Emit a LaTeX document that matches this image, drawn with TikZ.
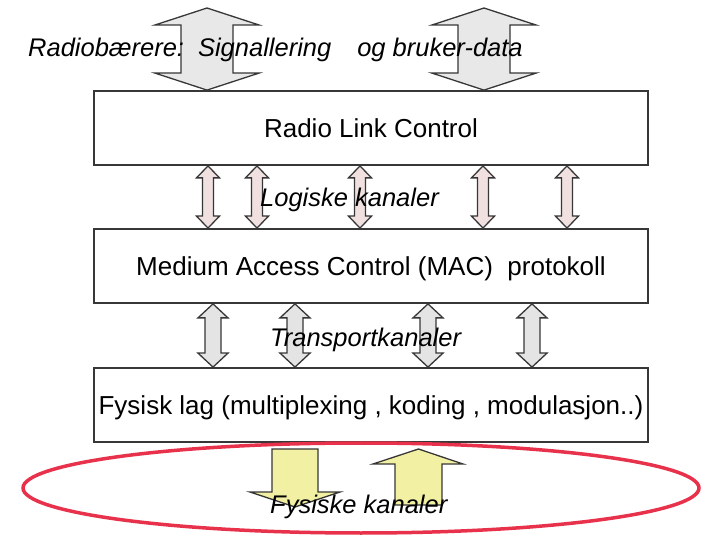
\documentclass[tikz,border=0pt]{standalone}
\usepackage{fontspec}
\setmainfont{Liberation Sans}
\usetikzlibrary{calc,shapes.geometric}
\definecolor{edge}{RGB}{55,55,55}
\definecolor{pinkfill}{RGB}{240,224,224}
\definecolor{grayfill}{RGB}{228,228,228}
\definecolor{bigfill}{RGB}{232,232,232}
\definecolor{yelfill}{RGB}{242,240,162}
\definecolor{ringred}{RGB}{232,50,76}
\newcommand\dblarr[7]{%
  \path[#1] let \p1=(#3), \p2=(#4) in
   (#2pt,\y1) -- (#2pt+#5pt,\y1-#7pt) -- (#2pt+#6pt,\y1-#7pt) -- (#2pt+#6pt,\y2+#7pt)
   -- (#2pt+#5pt,\y2+#7pt) -- (#2pt,\y2) -- (#2pt-#5pt,\y2+#7pt) -- (#2pt-#6pt,\y2+#7pt)
   -- (#2pt-#6pt,\y1-#7pt) -- (#2pt-#5pt,\y1-#7pt) -- cycle;}
\begin{document}
\begin{tikzpicture}[x=1pt,y=-1pt,
  layer/.style={draw=edge, line width=1.8pt, fill=white, minimum width=554pt, minimum height=74pt,
    inner sep=0pt, text height=18.7pt, text depth=0pt, font=\fontsize{26}{30}\selectfont},
  lbl/.style={inner sep=0pt, anchor=base west, font=\fontsize{25.5}{30}\selectfont\itshape},
  arrline/.style={draw=edge, line width=1.3pt, line join=miter},
  pinkarr/.style={arrline, fill=pinkfill},
  grayarr/.style={arrline, fill=grayfill},
  bigarr/.style={arrline, fill=bigfill},
  yelarr/.style={arrline, fill=yelfill}]
\useasboundingbox (0,0) rectangle (702,537);
\fill[white] (0,0) rectangle (702,537);
% layers
\node[layer] (rlc) at (371,128) {Radio Link Control};
\node[layer] (mac) at (371,266) {Medium Access Control (MAC)\ \ protokoll};
\node[layer] (fys) at (371,405) {Fysisk lag (multiplexing , koding , modulasjon..)};
% free ends of the top arrows
\coordinate (topL) at (207,8);
\coordinate (topR) at (484,8);
% radio bearers
\dblarr{bigarr}{207}{topL}{rlc.north}{52}{26}{17}
\dblarr{bigarr}{484}{topR}{rlc.north}{52}{26}{17}
% logical channels
\foreach \xx in {208,257,360,483,567}{\dblarr{pinkarr}{\xx}{rlc.south}{mac.north}{11.5}{5.5}{12}}
% transport channels
\foreach \xx in {213,295,428,532}{\dblarr{grayarr}{\xx}{mac.south}{fys.north}{15}{8}{14}}
% physical channels
\draw[yelarr] (272,449) -- (318,449) -- (318,492) -- (340,492) -- (295,507) -- (250,492) -- (272,492) -- cycle;
\draw[yelarr] (418.5,449) -- (463,464) -- (442,464) -- (442,505) -- (395,505) -- (395,464) -- (373,464) -- cycle;
\node[draw=ringred, line width=3.5pt, ellipse, minimum width=676pt, minimum height=90pt, inner sep=0pt] (ring) at (361,488) {};
% labels
\node[lbl] (tl) at (28,57) {Radiobærere:\hspace{14pt}Signallering\hspace{26pt}og bruker-data};
\node[lbl] (ll) at (260,207) {Logiske kanaler};
\node[lbl] (tk) at (270,347) {Transportkanaler};
\node[lbl] (fk) at (270,513) {Fysiske kanaler};
\end{tikzpicture}
\end{document}
